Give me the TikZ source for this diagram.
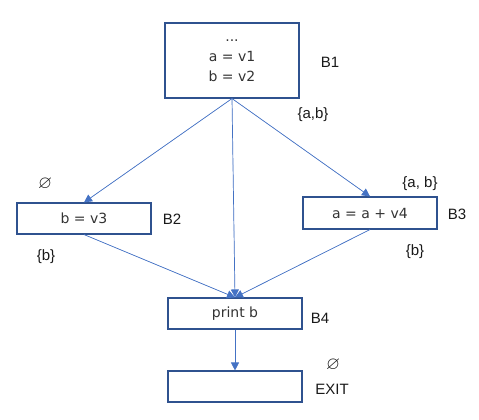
\documentclass[tikz,border=0pt]{standalone}
\usepackage{amssymb}
\usepackage{fontspec}
\setmainfont{Liberation Sans}
\newfontfamily\boxfont{DejaVu Sans}
\usetikzlibrary{positioning, arrows.meta}
\definecolor{boxblue}{HTML}{2F528F}
\definecolor{arrowblue}{HTML}{4472C4}
\definecolor{textgray}{HTML}{333333}

\begin{document}
\begin{tikzpicture}[x=1pt, y=-1pt] % 1 pt = 1 pixel of the reference
		% Styles
		\tikzset{
			block/.style={draw=boxblue, line width=1.1pt, minimum width=134pt, minimum height=31pt, inner sep=0pt, align=center, text=textgray, font=\boxfont\fontsize{14}{20}\selectfont},
			tag/.style={inner sep=0pt, text=black!90, font=\fontsize{15}{18}\selectfont},
			emptyset/.style={inner sep=0pt, text=black!90, font=\fontsize{18}{18}\selectfont},
			flow/.style={-{Triangle[length=8pt, width=8pt]}, line width=0.7pt, draw=arrowblue, fill=arrowblue}
		}
		\useasboundingbox (0,0) rectangle (479,420);
		
		% Block B1 (entry)
		\node[block, minimum height=75pt] (B1) at (232, 60.5) {...\\ a = v1\\ b = v2};
		\node[tag] (B1_Label) at (330, 62) {B1};
		\node[tag] (B1_Out) at (313, 115) {\{a,b\}};
		
		% Block B2 (left)
		\node[block] (B2) at (84, 218.5) {b = v3};
		\node[tag] (B2_Label) at (172, 219) {B2};
		\node[emptyset] (B2_In) at (45, 184) {$\varnothing$};
		\node[tag] (B2_Out) at (46, 257) {\{b\}};
		
		% Block B3 (right)
		\node[block, minimum height=32pt] (B3) at (370, 213) {a = a + v4};
		\node[tag] (B3_Label) at (457, 214) {B3};
		\node[tag] (B3_In) at (420, 184) {\{a, b\}};
		\node[tag] (B3_Out) at (415, 252) {\{b\}};
		
		% Block B4
		\node[block] (B4) at (235, 313.5) {print b};
		\node[tag] (B4_Label) at (320, 318) {B4};
		
		% Exit block
		\node[block] (Exit) at (235, 386.5) {};
		\node[emptyset] (Exit_In) at (333, 365) {$\varnothing$};
		\node[tag] (Exit_Label) at (332, 389) {EXIT};
		
		% Edges out of B1
		\draw[flow] (B1.south) -- (B2.north);
		\draw[flow] (B1.south) -- (B3.north);
		\draw[flow] (B1.south) -- (B4.north);
		
		% Edges into B4
		\draw[flow] (B2.south) -- (B4.north);
		\draw[flow] (B3.south) -- (B4.north);
		
		% Edge B4 -> EXIT
		\draw[flow] (B4.south) -- (Exit.north);
		
	\end{tikzpicture}
\end{document}
